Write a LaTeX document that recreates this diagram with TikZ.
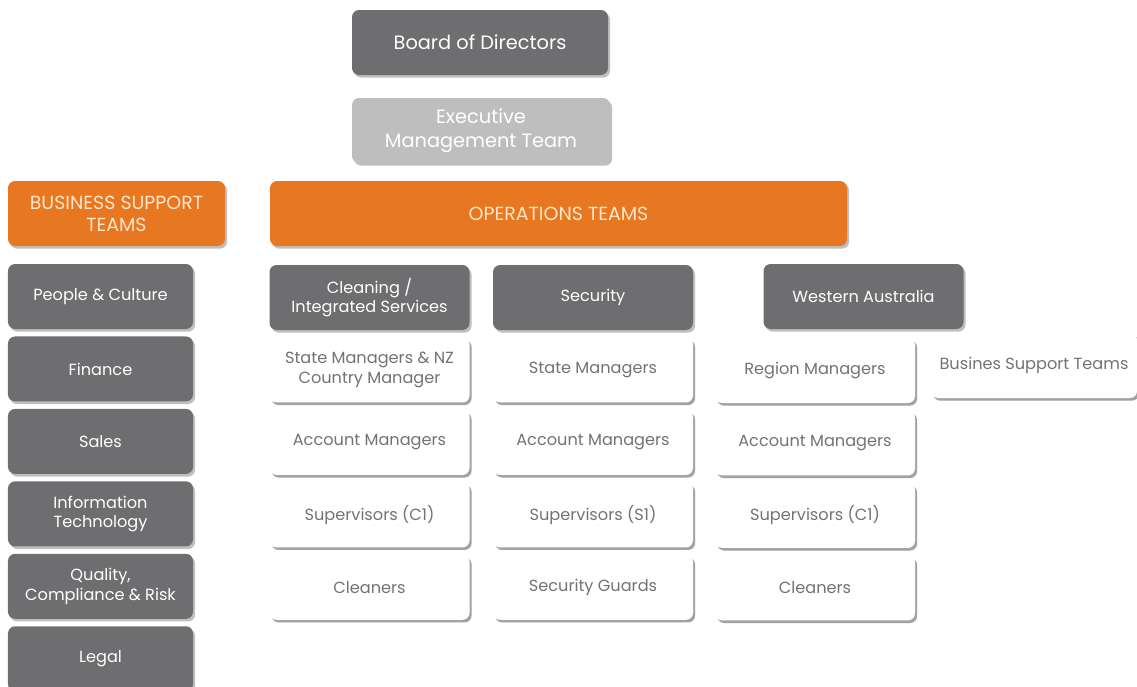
\documentclass[tikz,border=0pt]{standalone}
\usepackage{fontspec}
\setmainfont{Poppins}
\usetikzlibrary{positioning,shadows}

\definecolor{darkbox}{RGB}{110,110,112}
\definecolor{lightbox}{RGB}{190,190,190}
\definecolor{orangebox}{RGB}{232,119,34}
\definecolor{creamtext}{RGB}{253,230,200}
\definecolor{greytext}{RGB}{115,115,115}

\begin{document}
\begin{tikzpicture}[
    node distance=0.135cm,
    base/.style={rectangle, rounded corners=4pt, align=center, minimum height=1.3cm, font=\fontsize{9.2}{11}\selectfont,
        drop shadow={shadow xshift=1.2pt, shadow yshift=-1.5pt, fill=black, opacity=0.25}},
    dark/.style={base, fill=darkbox, text=white},
    pale/.style={base, fill=lightbox, text=white},
    head/.style={base, fill=orangebox, text=creamtext, font=\fontsize{10.8}{12.5}\selectfont},
    role/.style={base, fill=white, text=greytext, minimum width=4cm,
        drop shadow={shadow xshift=1.2pt, shadow yshift=-1.5pt, fill=black, opacity=0.15}},
    side/.style={dark, minimum width=3.7cm},
    team/.style={dark, minimum width=4cm}
]
\useasboundingbox (0,0) rectangle (22.74,-13.74);

% Top of the chart
\node[dark, minimum width=5.12cm, font=\fontsize{11}{13.5}\selectfont] (board) at (9.6,-0.85) {Board of Directors};
\node[pale, minimum width=5.16cm, font=\fontsize{11}{13.5}\selectfont] (exec) at (9.62,-2.61) {Executive\\Management Team};

% Orange headers
\node[head, minimum width=4.34cm] (bst) at (2.33,-4.27) {BUSINESS SUPPORT\\TEAMS};
\node[head, minimum width=11.54cm] (ops) at (11.17,-4.27) {OPERATIONS TEAMS};

% Business support column
\node[side] (people) at (2.01,-5.93) {People \& Culture};
\node[side] (finance) [below=of people] {Finance};
\node[side] (sales) [below=of finance] {Sales};
\node[side] (infotech) [below=of sales] {Information\\Technology};
\node[side] (quality) [below=of infotech] {Quality,\\Compliance \& Risk};
\node[side] (legal) [below=of quality] {Legal};

% Cleaning
\node[team] (clean) at (7.39,-5.95) {Cleaning /\\Integrated Services};
\node[role] (clean1) [below=of clean] {State Managers \& NZ\\Country Manager};
\node[role] (clean2) [below=of clean1] {Account Managers};
\node[role] (clean3) [below=of clean2] {Supervisors (C1)};
\node[role] (clean4) [below=of clean3] {Cleaners};

% Security
\node[team] (secur) at (11.86,-5.95) {Security};
\node[role] (secur1) [below=of secur] {State Managers};
\node[role] (secur2) [below=of secur1] {Account Managers};
\node[role] (secur3) [below=of secur2] {Supervisors (S1)};
\node[role] (secur4) [below=of secur3] {Security Guards};

% Western Australia
\node[team] (wa) at (17.27,-5.93) {Western Australia};
\node[role] (wa1) at (16.3,-7.41) {Region Managers};
\node[role] (wa2) [below=of wa1] {Account Managers};
\node[role] (wa3) [below=of wa2] {Supervisors (C1)};
\node[role] (wa4) [below=of wa3] {Cleaners};
\node[role, minimum width=4.12cm] (wasupport) at (20.68,-7.31) {Busines Support Teams};

\end{tikzpicture}
\end{document}
